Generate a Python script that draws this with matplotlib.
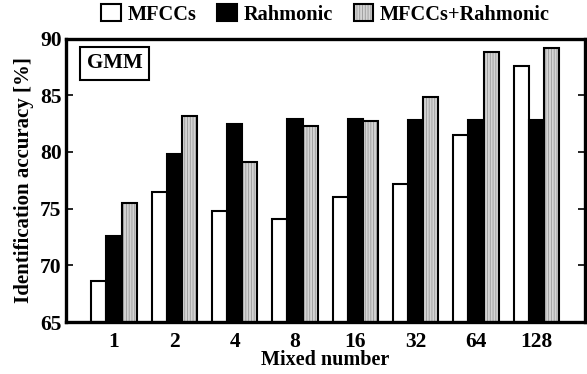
import numpy as np
import matplotlib.pyplot as plt

plt.rcParams['font.family'] = ['Liberation Serif', 'DejaVu Serif']
plt.rcParams['font.weight'] = 'bold'
plt.rcParams['hatch.linewidth'] = 0.6

# data
mixtures = ["1", "2", "4", "8", "16", "32", "64", "128"]
mfccs = [68.6, 76.5, 74.8, 74.1, 76.0, 77.2, 81.5, 87.6]
rahmonic = [72.6, 79.8, 82.5, 82.9, 82.9, 82.8, 82.8, 82.8]
combined = [75.5, 83.2, 79.1, 82.3, 82.7, 84.8, 88.8, 89.2]

x = np.arange(len(mixtures))
w = 0.25

fig = plt.figure(figsize=(5.87, 3.74), dpi=100)
ax = fig.add_axes([0.112, 0.139, 0.885, 0.758])

b1 = ax.bar(x - w, mfccs, w, color="white", edgecolor="black", linewidth=1.5,
            label="MFCCs")
b2 = ax.bar(x, rahmonic, w, color="black", edgecolor="black", linewidth=1.5,
            label="Rahmonic")
b3 = ax.bar(x + w, combined, w, color="#d4d4d4", edgecolor="black", linewidth=1.5,
            hatch="||||||", label="MFCCs+Rahmonic")
for p in b3:
    p._hatch_color = (0.6, 0.6, 0.6, 1.0)

ax.set_ylim(65, 90)
ax.set_xlim(-0.8, 7.81)
ax.set_yticks([65, 70, 75, 80, 85, 90])
ax.set_xticks(x)
ax.set_xticklabels(mixtures)
ax.tick_params(axis="y", direction="in", length=5, width=1.2, right=True,
               labelsize=15.5, pad=3)
ax.tick_params(axis="x", length=0, labelsize=15.5, pad=7)
for s in ax.spines.values():
    s.set_linewidth(2.4)

ax.set_xlabel("Mixed number", fontsize=14.5, fontweight="bold", labelpad=-1)
ax.set_ylabel("Identification accuracy [%]", fontsize=15, fontweight="bold",
              labelpad=4)

ax.text(0.04, 0.912, "GMM", transform=ax.transAxes, fontsize=15,
        fontweight="bold", va="center", ha="left",
        bbox=dict(boxstyle="square,pad=0.3", fc="white", ec="black", lw=1.5))

fig.legend(handles=[b1, b2, b3], loc="center", bbox_to_anchor=(0.555, 0.962),
           ncol=3, frameon=False, fontsize=14.7, handlelength=0.95,
           handleheight=0.95, handletextpad=0.35, columnspacing=1.0,
           borderaxespad=0)

fig.savefig("out.png", dpi=100)
